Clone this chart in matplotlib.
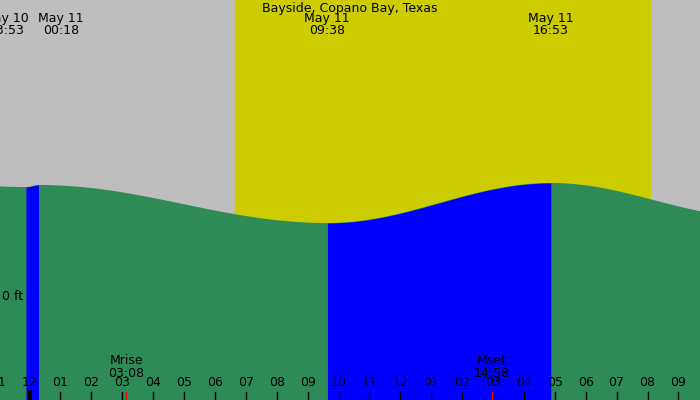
import numpy as np
import matplotlib
matplotlib.use("Agg")
import matplotlib.pyplot as plt

# tide extremes: hours since midnight May 11, height (ft)
ext_hours = [-3.0, -0.12, 0.30, 9.63, 16.88, 23.5]
ext_feet = [1.13, 1.10, 1.12, 0.74, 1.14, 0.80]
event_labels = ["May 10\n23:53", "May 11\n00:18", "May 11\n09:38", "May 11\n16:53"]
event_hours = [-0.12, 0.30, 9.63, 16.88]
event_dx = [-14, 16, 0, 0]
sunrise, sunset = 6.65, 20.08
moon_events = [("Mrise\n03:08", 3 + 8/60), ("Mset\n14:58", 14 + 58/60)]
tick_hours = list(range(-1, 22))
tick_labels = ["%02d" % (((h - 1) % 12) + 1) for h in tick_hours]

x0, x1 = -0.955, -0.955 + 700/30.9
y0, y1 = -1.03, 2.97

def tide(t):
    t = np.asarray(t, float)
    out = np.empty_like(t)
    for i in range(len(ext_hours) - 1):
        a, b = ext_hours[i], ext_hours[i+1]
        m = (t >= a) & (t <= b)
        f = (t[m] - a) / (b - a)
        out[m] = ext_feet[i] + (ext_feet[i+1] - ext_feet[i]) * (1 - np.cos(np.pi * f)) / 2
    return out

fig = plt.figure(figsize=(7, 4), dpi=100)
ax = fig.add_axes([0, 0, 1, 1])
ax.set_xlim(x0, x1); ax.set_ylim(y0, y1)
ax.axis("off")
ax.axvspan(x0, x1, color="#BEBEBE", zorder=0)
ax.axvspan(sunrise, sunset, color="#CCCC00", zorder=1)

t = np.linspace(x0, x1, 2000)
h = tide(t)
ax.fill_between(t, y0, h, color="#2E8B57", zorder=2, lw=0)
for i in range(len(event_hours) - 1):
    if ext_feet[ext_hours.index(event_hours[i+1])] > ext_feet[ext_hours.index(event_hours[i])]:
        m = (t >= event_hours[i]) & (t <= event_hours[i+1])
        ax.fill_between(t[m], y0, h[m], color="#0000FF", zorder=3, lw=0)

fs = 9
ax.text((x0 + x1) / 2, y1 - 0.02, "Bayside, Copano Bay, Texas", ha="center", va="top", fontsize=fs, zorder=5)
for lab, eh, dx in zip(event_labels, event_hours, event_dx):
    ax.annotate(lab, (eh, y1 - 0.12), xytext=(dx, 0), textcoords="offset points",
                ha="center", va="top", fontsize=fs, linespacing=0.95, zorder=5)
ax.text(x0 + 0.05, 0, "0 ft", ha="left", va="center", fontsize=fs, zorder=5)

for th, tl in zip(tick_hours, tick_labels):
    ax.plot([th, th], [y0, y0 + 0.08], color="black", lw=3 if th == 0 else 1, zorder=5)
    ax.text(th, y0 + 0.11, tl, ha="center", va="bottom", fontsize=fs, zorder=5)
for lab, mh in moon_events:
    ax.plot([mh, mh], [y0, y0 + 0.08], color="red", lw=1, zorder=6)
    ax.text(mh, y0 + 0.2, lab, ha="center", va="bottom", fontsize=fs, linespacing=0.95, zorder=5)

fig.savefig("out.png", dpi=100)
